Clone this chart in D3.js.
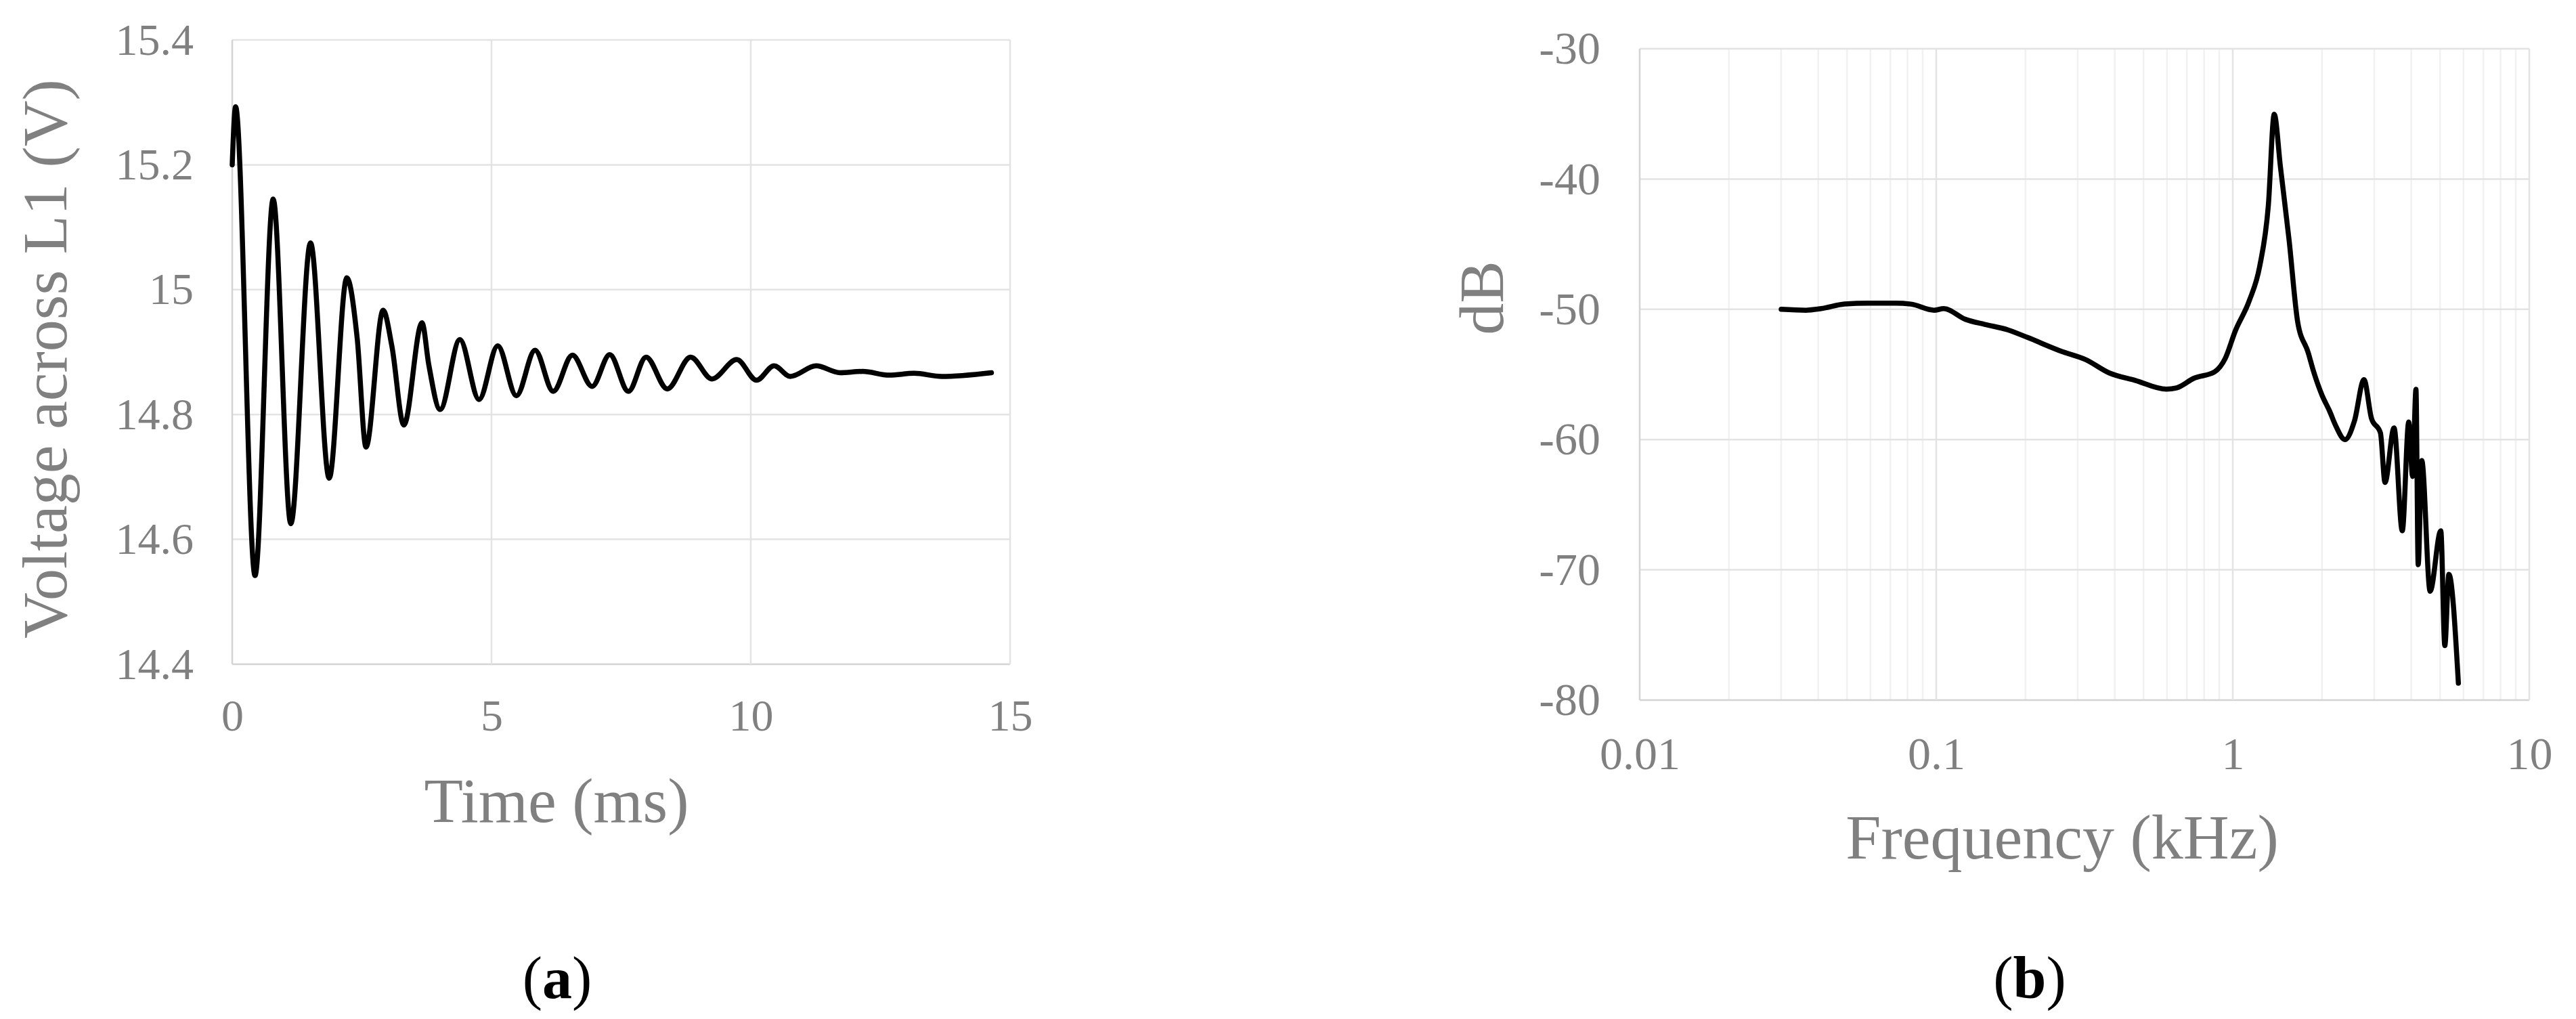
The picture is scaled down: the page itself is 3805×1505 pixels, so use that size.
<!DOCTYPE html>
<html><head><meta charset="utf-8">
<script src="https://cdn.jsdelivr.net/npm/d3@7"></script>
<style>html,body{margin:0;padding:0;background:#fff;}svg{display:block;}</style>
</head><body>
<svg id="c" width="3805" height="1505"></svg>
<script>
// ---- data (a): transient voltage across L1 ----
const timeMs = [0,0.065,0.44,0.79,1.13,1.51,1.87,2.21,2.41,2.58,2.91,3.08,3.31,3.66,3.79,4.01,4.39,4.76,5.12,5.48,5.84,6.19,6.56,6.94,7.28,7.64,7.98,8.39,8.84,9.25,9.73,10.11,10.45,10.76,11.26,11.72,12.16,12.67,13.15,13.68,14.64];
const voltage = [15.2,15.293,14.542,15.145,14.625,15.075,14.698,15.019,14.922,14.748,14.967,14.909,14.783,14.947,14.88,14.808,14.920,14.824,14.910,14.830,14.903,14.837,14.895,14.845,14.896,14.837,14.892,14.841,14.892,14.857,14.888,14.855,14.878,14.861,14.878,14.867,14.869,14.863,14.866,14.861,14.867];
const timeTicks = [0,5,10,15];
const voltTicks = [14.4,14.6,14.8,15.0,15.2,15.4];
const voltTickLabels = ["14.4","14.6","14.8","15","15.2","15.4"];

// ---- data (b): frequency response ----
const freqKHz = [0.030,0.0363,0.0409,0.0491,0.0589,0.0728,0.0821,0.0984,0.106,0.1254,0.1457,0.1745,0.203,0.2667,0.319,0.383,0.469,0.597,0.647,0.739,0.869,0.942,1.02,1.137,1.233,1.318,1.38,1.448,1.549,1.656,1.795,1.877,2.0,2.12,2.225,2.39,2.574,2.77,2.936,3.148,3.262,3.498,3.73,3.922,4.04,4.148,4.22,4.34,4.63,5.03,5.19,5.356,5.766];
const gainDb = [-50.0,-50.07,-49.95,-49.6,-49.53,-49.53,-49.6,-50.07,-49.95,-50.77,-51.16,-51.58,-52.16,-53.26,-53.86,-54.88,-55.46,-56.13,-56.03,-55.3,-54.8,-53.8,-51.66,-49.34,-46.69,-42.05,-35.03,-39.07,-44.7,-50.99,-53.3,-54.84,-56.6,-57.8,-58.94,-60.0,-58.55,-55.4,-58.37,-59.49,-63.29,-59.1,-67.0,-58.65,-62.83,-56.14,-69.6,-61.62,-71.64,-67.0,-75.82,-70.34,-78.7];
const freqTicks = [0.01,0.1,1,10];
const freqTickLabels = ["0.01","0.1","1","10"];
const dbTicks = [-80,-70,-60,-50,-40,-30];

const svg = d3.select("#c");
svg.append("rect").attr("width",3805).attr("height",1505).attr("fill","#fff");
const FONT = "'Liberation Serif','Times New Roman',serif";
const GRAY = "#808080";
const GRID = "#e3e3e3", AXIS = "#d4d4d4", MINOR = "#f1f1f1";

// ================= chart (a) =================
const xL = d3.scaleLinear().domain([0,15]).range([343,1492]);
const yL = d3.scaleLinear().domain([14.4,15.4]).range([981,59]);
const gA = svg.append("g");
gA.selectAll(".hg").data(voltTicks).join("line")
  .attr("x1",xL(0)).attr("x2",xL(15)).attr("y1",d=>yL(d)).attr("y2",d=>yL(d))
  .attr("stroke",d=>d===14.4?AXIS:GRID).attr("stroke-width",2.5);
gA.selectAll(".vg").data(timeTicks).join("line")
  .attr("x1",d=>xL(d)).attr("x2",d=>xL(d)).attr("y1",yL(15.4)).attr("y2",yL(14.4))
  .attr("stroke",d=>d===0?AXIS:GRID).attr("stroke-width",2.5);

const axLy = gA.append("g").attr("transform",`translate(${xL(0)},0)`)
  .call(d3.axisLeft(yL).tickValues(voltTicks).tickSize(0).tickPadding(57)
    .tickFormat((d,i)=>voltTickLabels[i]));
const axLx = gA.append("g").attr("transform",`translate(0,${yL(14.4)})`)
  .call(d3.axisBottom(xL).tickValues(timeTicks).tickSize(0).tickPadding(51)
    .tickFormat(d3.format("d")));
[axLy,axLx].forEach(a=>{a.select(".domain").remove();
  a.selectAll("text").attr("fill",GRAY).style("font-family",FONT).style("font-size","66px");});

const lineA = d3.line().x((d,i)=>xL(timeMs[i])).y((d,i)=>yL(voltage[i])).curve(d3.curveMonotoneX);
gA.append("path").attr("d",lineA(timeMs)).attr("fill","none").attr("stroke","#000")
  .attr("stroke-width",7.5).attr("stroke-linejoin","round").attr("stroke-linecap","round");

gA.append("text").attr("x",822).attr("y",1214).attr("text-anchor","middle")
  .attr("fill",GRAY).style("font-family",FONT).style("font-size","94px").text("Time (ms)");
gA.append("text").attr("transform","translate(98,530) rotate(-90)").attr("text-anchor","middle")
  .attr("fill",GRAY).style("font-family",FONT).style("font-size","94px").text("Voltage across L1 (V)");
const la = gA.append("text").attr("x",823).attr("y",1474).attr("text-anchor","middle")
  .attr("fill","#000").style("font-family",FONT).style("font-size","88px");
la.append("tspan").text("(");
la.append("tspan").attr("font-weight","bold").text("a");
la.append("tspan").text(")");

// ================= chart (b) =================
const xR = d3.scaleLog().domain([0.01,10]).range([2422,3736]);
const yR = d3.scaleLinear().domain([-80,-30]).range([1034,72]);
const gB = svg.append("g");
const minorF = xR.ticks().filter(d=>!freqTicks.some(m=>Math.abs(m-d)<1e-9));
gB.selectAll(".mg").data(minorF).join("line")
  .attr("x1",d=>xR(d)).attr("x2",d=>xR(d)).attr("y1",yR(-30)).attr("y2",yR(-80))
  .attr("stroke",MINOR).attr("stroke-width",2.5);
gB.selectAll(".hg").data(dbTicks).join("line")
  .attr("x1",xR(0.01)).attr("x2",xR(10)).attr("y1",d=>yR(d)).attr("y2",d=>yR(d))
  .attr("stroke",d=>d===-80?AXIS:GRID).attr("stroke-width",2.5);
gB.selectAll(".vg").data(freqTicks).join("line")
  .attr("x1",d=>xR(d)).attr("x2",d=>xR(d)).attr("y1",yR(-30)).attr("y2",yR(-80))
  .attr("stroke",d=>d===0.01?AXIS:GRID).attr("stroke-width",2.5);

const axRy = gB.append("g").attr("transform",`translate(${xR(0.01)},0)`)
  .call(d3.axisLeft(yR).tickValues(dbTicks).tickSize(0).tickPadding(58).tickFormat(d=>String(d)));
const axRx = gB.append("g").attr("transform",`translate(0,${yR(-80)})`)
  .call(d3.axisBottom(xR).tickValues(freqTicks).tickSize(0).tickPadding(54)
    .tickFormat((d,i)=>freqTickLabels[i]));
[axRy,axRx].forEach(a=>{a.select(".domain").remove();
  a.selectAll("text").attr("fill",GRAY).style("font-family",FONT).style("font-size","68px");});

const lineB = d3.line().x((d,i)=>xR(freqKHz[i])).y((d,i)=>yR(gainDb[i])).curve(d3.curveMonotoneX);
gB.append("path").attr("d",lineB(freqKHz)).attr("fill","none").attr("stroke","#000")
  .attr("stroke-width",7.5).attr("stroke-linejoin","round").attr("stroke-linecap","round");

gB.append("text").attr("x",3046).attr("y",1268).attr("text-anchor","middle")
  .attr("fill",GRAY).style("font-family",FONT).style("font-size","94px").text("Frequency (kHz)");
gB.append("text").attr("transform","translate(2220,440) rotate(-90)").attr("text-anchor","middle")
  .attr("fill",GRAY).style("font-family",FONT).style("font-size","94px").text("dB");
const lb = gB.append("text").attr("x",2998).attr("y",1474).attr("text-anchor","middle")
  .attr("fill","#000").style("font-family",FONT).style("font-size","88px");
lb.append("tspan").text("(");
lb.append("tspan").attr("font-weight","bold").text("b");
lb.append("tspan").text(")");
</script>
</body></html>
